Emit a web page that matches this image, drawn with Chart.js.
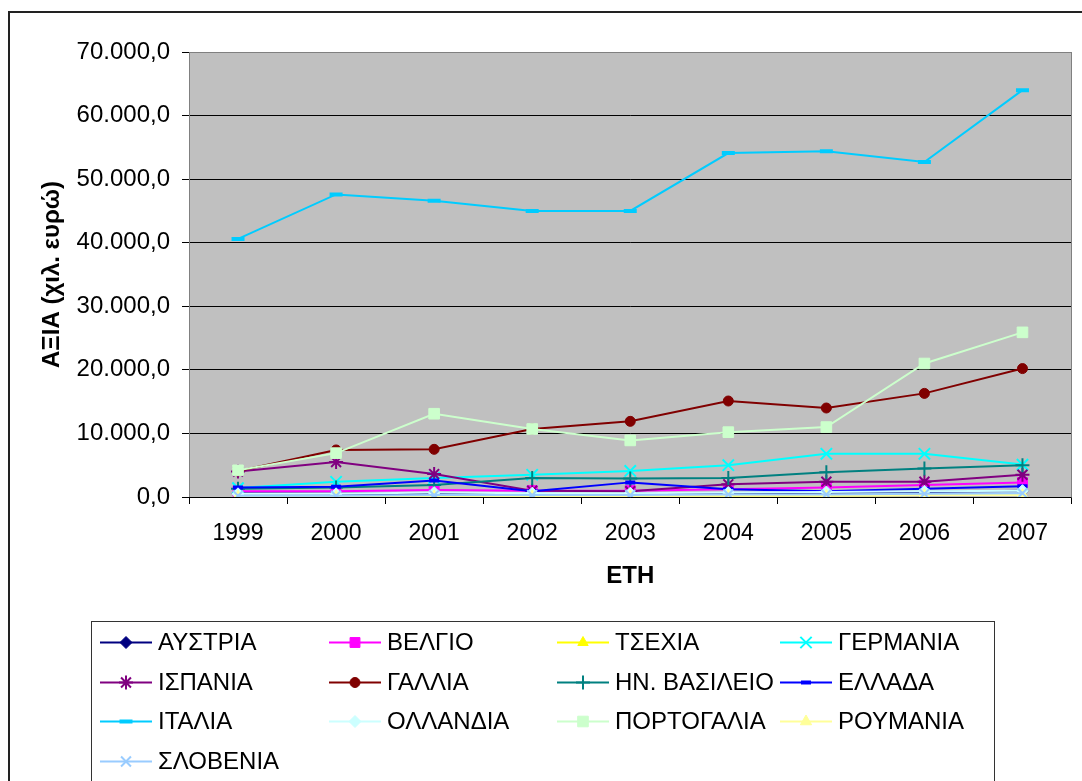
<!DOCTYPE html>
<html>
<head>
<meta charset="utf-8">
<script src="https://cdn.jsdelivr.net/npm/chart.js@4/dist/chart.umd.min.js"></script>
<style>
html,body{margin:0;padding:0;background:#fff;}
#wrap{width:1082px;height:781px;position:relative;}
</style>
</head>
<body>
<div id="wrap"><canvas id="c" width="1082" height="781"></canvas></div>
<script>
const years = ['1999','2000','2001','2002','2003','2004','2005','2006','2007'];
const yTicks = [0,10000,20000,30000,40000,50000,60000,70000];
const names = ['ΑΥΣΤΡΙΑ','ΒΕΛΓΙΟ','ΤΣΕΧΙΑ','ΓΕΡΜΑΝΙΑ','ΙΣΠΑΝΙΑ','ΓΑΛΛΙΑ','ΗΝ. ΒΑΣΙΛΕΙΟ','ΕΛΛΑΔΑ','ΙΤΑΛΙΑ','ΟΛΛΑΝΔΙΑ','ΠΟΡΤΟΓΑΛΙΑ','ΡΟΥΜΑΝΙΑ','ΣΛΟΒΕΝΙΑ'];
const austria    = [600, 500, 500, 400, 500, 500, 700, 800, 1000];
const belgio     = [900, 900, 1100, 1000, 1000, 1200, 1500, 1900, 2300];
const tsexia     = [100, 100, 150, 150, 200, 200, 250, 300, 400];
const germania   = [1400, 2400, 3000, 3500, 4100, 5000, 6800, 6800, 5100];
const ispania    = [4000, 5500, 3600, 1000, 900, 2000, 2400, 2400, 3500];
const gallia     = [4100, 7400, 7500, 10700, 11900, 15100, 14000, 16300, 20200];
const basileio   = [1300, 1500, 1900, 3000, 2900, 3000, 3900, 4500, 5000];
const ellada     = [1500, 1600, 2600, 900, 2300, 1200, 900, 1300, 1700];
const italia     = [40600, 47600, 46600, 45000, 45000, 54100, 54400, 52700, 64000];
const ollandia   = [500, 500, 700, 600, 600, 700, 800, 900, 1000];
const portogalia = [4200, 6900, 13100, 10700, 8900, 10200, 11000, 21000, 25900];
const roumania   = [50, 50, 100, 100, 150, 200, 200, 300, 300];
const slovenia   = [200, 200, 300, 300, 300, 400, 400, 500, 600];

const seriesData = [austria, belgio, tsexia, germania, ispania, gallia, basileio, ellada, italia, ollandia, portogalia, roumania, slovenia];
const colors = ['#000080','#FF00FF','#FFFF00','#00FFFF','#800080','#800000','#008080','#0000FF','#00CCFF','#CCFFFF','#CCFFCC','#FFFF99','#99CCFF'];
const styles = ['rectRot','rect','triangle','crossRot','star','circle','cross','line','line','rectRot','rect','triangle','crossRot'];
const radii  = [6, 7, 6, 8, 7, 5, 7, 5, 6.5, 6, 7.5, 6.5, 7];
const bws    = [1, 1, 1, 2, 2, 1, 2, 4, 4, 1, 1, 1, 2];

function fmt(v){
  const s = Number(v).toFixed(1);
  const parts = s.split('.');
  return parts[0].replace(/\B(?=(\d{3})+(?!\d))/g, '.') + ',' + parts[1];
}

const datasets = seriesData.map((d,i)=>({
  label: names[i],
  data: d,
  borderColor: colors[i],
  backgroundColor: colors[i],
  pointBackgroundColor: colors[i],
  pointBorderColor: colors[i],
  pointStyle: styles[i],
  pointRadius: radii[i],
  pointHoverRadius: radii[i],
  pointBorderWidth: bws[i],
  borderWidth: 2,
  tension: 0,
  fill: false,
  order: -i
}));

const FONT = "'Liberation Sans', Arial, sans-serif";

const decor = {
  id: 'decor',
  beforeDraw(chart){
    const {ctx, chartArea:a} = chart;
    ctx.save();
    ctx.fillStyle = '#C0C0C0';
    ctx.fillRect(a.left, a.top, a.right-a.left, a.bottom-a.top);
    ctx.restore();
  },
  beforeDatasetsDraw(chart){
    const {ctx, chartArea:a} = chart;
    ctx.save();
    ctx.strokeStyle = '#808080';
    ctx.lineWidth = 1;
    ctx.strokeRect(Math.round(a.left)+0.5, Math.round(a.top)+0.5, Math.round(a.right-a.left)-1, Math.round(a.bottom-a.top));
    ctx.strokeStyle = '#000';
    ctx.beginPath();
    ctx.moveTo(a.left, Math.round(a.bottom)+0.5);
    ctx.lineTo(a.right, Math.round(a.bottom)+0.5);
    ctx.stroke();
    ctx.restore();
  },
  afterDraw(chart){
    const ctx = chart.ctx;
    ctx.save();
    // outer chart border
    ctx.strokeStyle = '#222';
    ctx.lineWidth = 2;
    ctx.strokeRect(9, 12, 1200, 1000);
    // legend box
    ctx.lineWidth = 1;
    ctx.strokeStyle = '#333';
    ctx.strokeRect(91.5, 621.5, 903, 300);
    const lineX = [100, 329, 557, 780];
    const rowY0 = 642, rowH = 39.5;
    ctx.font = '24px ' + FONT;
    ctx.textBaseline = 'middle';
    ctx.textAlign = 'left';
    chart.data.datasets.forEach((ds,i)=>{
      const col = i % 4, row = Math.floor(i/4);
      const x0 = lineX[col], y = Math.round(rowY0 + row*rowH) + 0.5;
      ctx.strokeStyle = ds.borderColor;
      ctx.lineWidth = 2;
      ctx.beginPath();
      ctx.moveTo(x0, y);
      ctx.lineTo(x0+52, y);
      ctx.stroke();
      ctx.fillStyle = ds.backgroundColor;
      ctx.strokeStyle = ds.borderColor;
      ctx.lineWidth = ds.pointBorderWidth;
      if (Chart.helpers && Chart.helpers.drawPoint) {
        Chart.helpers.drawPoint(ctx, {pointStyle: ds.pointStyle, radius: ds.pointRadius, rotation: 0, borderWidth: ds.pointBorderWidth}, x0+26, y);
      }
      ctx.fillStyle = '#000';
      ctx.fillText(ds.label, x0+58, y+1);
    });
    ctx.restore();
  }
};

new Chart(document.getElementById('c'), {
  type: 'line',
  data: { labels: years, datasets },
  plugins: [decor],
  options: {
    responsive: false,
    animation: false,
    devicePixelRatio: 1,
    layout: { padding: { left: 38, right: 2, top: 52, bottom: 190 } },
    plugins: { legend: { display: false }, tooltip: { enabled: false } },
    scales: {
      x: {
        type: 'category',
        offset: true,
        grid: { display: true, offset: true, drawOnChartArea: false, drawTicks: true, tickLength: 7, color: '#000', tickColor: '#000' },
        border: { display: false },
        ticks: { color: '#000', font: { family: FONT, size: 23 }, padding: 16, maxRotation: 0, autoSkip: false },
        title: { display: true, text: 'ΕΤΗ', color: '#000', font: { family: FONT, size: 24, weight: 'bold' }, padding: 0 },
        afterFit(s){ s.height = 94; }
      },
      y: {
        min: 0, max: 70000,
        afterBuildTicks(s){ s.ticks = yTicks.map(v=>({value:v})); },
        grid: { color: '#000', tickColor: '#000', tickLength: 7, drawTicks: true, lineWidth: 1 },
        border: { display: false },
        ticks: { color: '#000', font: { family: FONT, size: 24 }, padding: 12, callback: v => fmt(v) },
        title: { display: true, text: 'ΑΞΙΑ (χιλ. ευρώ)', color: '#000', font: { family: FONT, size: 24, weight: 'bold' }, padding: 0 },
        afterFit(s){ s.width = 151; }
      }
    }
  }
});
</script>
</body>
</html>
